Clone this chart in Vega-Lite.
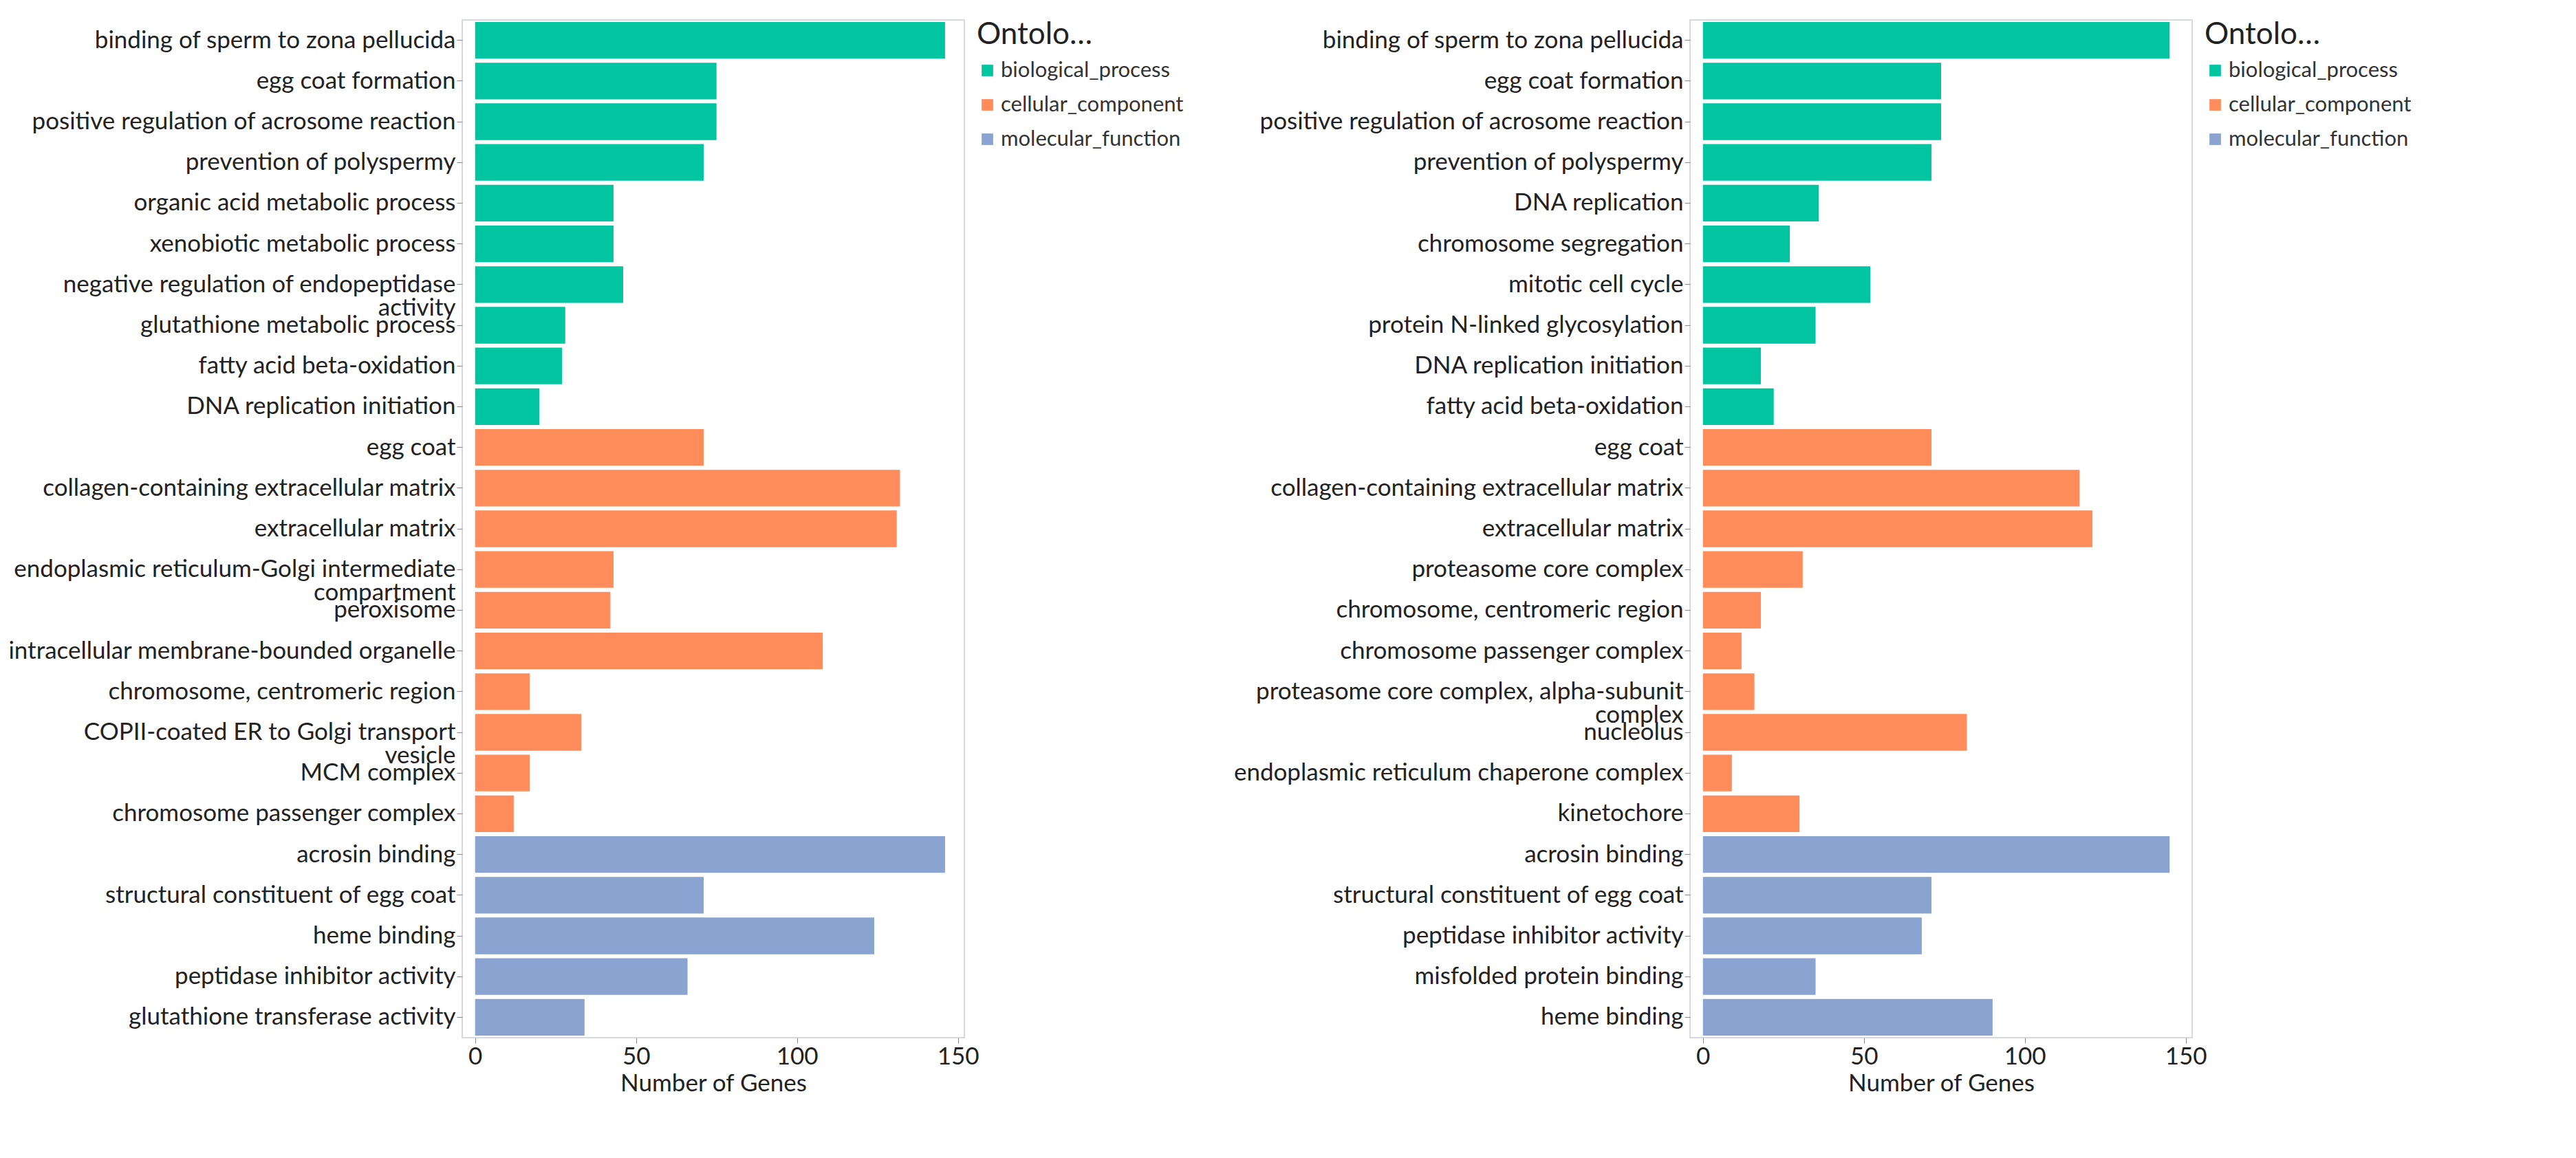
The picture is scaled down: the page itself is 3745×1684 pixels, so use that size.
{
  "$schema": "https://vega.github.io/schema/vega-lite/v6.json",
  "background": "white",
  "padding": {"left": 10, "top": 28, "right": 5, "bottom": 5},
  "config": {
    "font": "Lato",
    "view": {"stroke": "#d8d8e0", "strokeWidth": 2},
    "axis": {"labelFontSize": 35, "titleFontSize": 35, "labelColor": "#222", "titleColor": "#222", "titleFontWeight": "normal", "grid": false, "domain": false, "tickColor": "#888", "tickSize": 8},
    "legend": {"titleFontSize": 44, "labelFontSize": 31, "labelLimit": 500, "titleFontWeight": "normal", "symbolType": "square", "symbolSize": 280, "rowPadding": 18, "titleColor": "#222", "labelColor": "#333", "titlePadding": 14}
  },
  "resolve": {"scale": {"color": "independent"}},
  "spacing": 70,
  "datasets": {
    "left": [
      {"i": 1, "term": "binding of sperm to zona pellucida", "genes": 146, "ont": "biological_process"},
      {"i": 2, "term": "egg coat formation", "genes": 75, "ont": "biological_process"},
      {"i": 3, "term": "positive regulation of acrosome reaction", "genes": 75, "ont": "biological_process"},
      {"i": 4, "term": "prevention of polyspermy", "genes": 71, "ont": "biological_process"},
      {"i": 5, "term": "organic acid metabolic process", "genes": 43, "ont": "biological_process"},
      {"i": 6, "term": "xenobiotic metabolic process", "genes": 43, "ont": "biological_process"},
      {"i": 7, "term": "negative regulation of endopeptidase|activity", "genes": 46, "ont": "biological_process"},
      {"i": 8, "term": "glutathione metabolic process", "genes": 28, "ont": "biological_process"},
      {"i": 9, "term": "fatty acid beta-oxidation", "genes": 27, "ont": "biological_process"},
      {"i": 10, "term": "DNA replication initiation", "genes": 20, "ont": "biological_process"},
      {"i": 11, "term": "egg coat", "genes": 71, "ont": "cellular_component"},
      {"i": 12, "term": "collagen-containing extracellular matrix", "genes": 132, "ont": "cellular_component"},
      {"i": 13, "term": "extracellular matrix", "genes": 131, "ont": "cellular_component"},
      {"i": 14, "term": "endoplasmic reticulum-Golgi intermediate|compartment", "genes": 43, "ont": "cellular_component"},
      {"i": 15, "term": "peroxisome", "genes": 42, "ont": "cellular_component"},
      {"i": 16, "term": "intracellular membrane-bounded organelle", "genes": 108, "ont": "cellular_component"},
      {"i": 17, "term": "chromosome, centromeric region", "genes": 17, "ont": "cellular_component"},
      {"i": 18, "term": "COPII-coated ER to Golgi transport|vesicle", "genes": 33, "ont": "cellular_component"},
      {"i": 19, "term": "MCM complex", "genes": 17, "ont": "cellular_component"},
      {"i": 20, "term": "chromosome passenger complex", "genes": 12, "ont": "cellular_component"},
      {"i": 21, "term": "acrosin binding", "genes": 146, "ont": "molecular_function"},
      {"i": 22, "term": "structural constituent of egg coat", "genes": 71, "ont": "molecular_function"},
      {"i": 23, "term": "heme binding", "genes": 124, "ont": "molecular_function"},
      {"i": 24, "term": "peptidase inhibitor activity", "genes": 66, "ont": "molecular_function"},
      {"i": 25, "term": "glutathione transferase activity", "genes": 34, "ont": "molecular_function"}
    ],
    "right": [
      {"i": 1, "term": "binding of sperm to zona pellucida", "genes": 145, "ont": "biological_process"},
      {"i": 2, "term": "egg coat formation", "genes": 74, "ont": "biological_process"},
      {"i": 3, "term": "positive regulation of acrosome reaction", "genes": 74, "ont": "biological_process"},
      {"i": 4, "term": "prevention of polyspermy", "genes": 71, "ont": "biological_process"},
      {"i": 5, "term": "DNA replication", "genes": 36, "ont": "biological_process"},
      {"i": 6, "term": "chromosome segregation", "genes": 27, "ont": "biological_process"},
      {"i": 7, "term": "mitotic cell cycle", "genes": 52, "ont": "biological_process"},
      {"i": 8, "term": "protein N-linked glycosylation", "genes": 35, "ont": "biological_process"},
      {"i": 9, "term": "DNA replication initiation", "genes": 18, "ont": "biological_process"},
      {"i": 10, "term": "fatty acid beta-oxidation", "genes": 22, "ont": "biological_process"},
      {"i": 11, "term": "egg coat", "genes": 71, "ont": "cellular_component"},
      {"i": 12, "term": "collagen-containing extracellular matrix", "genes": 117, "ont": "cellular_component"},
      {"i": 13, "term": "extracellular matrix", "genes": 121, "ont": "cellular_component"},
      {"i": 14, "term": "proteasome core complex", "genes": 31, "ont": "cellular_component"},
      {"i": 15, "term": "chromosome, centromeric region", "genes": 18, "ont": "cellular_component"},
      {"i": 16, "term": "chromosome passenger complex", "genes": 12, "ont": "cellular_component"},
      {"i": 17, "term": "proteasome core complex, alpha-subunit|complex", "genes": 16, "ont": "cellular_component"},
      {"i": 18, "term": "nucleolus", "genes": 82, "ont": "cellular_component"},
      {"i": 19, "term": "endoplasmic reticulum chaperone complex", "genes": 9, "ont": "cellular_component"},
      {"i": 20, "term": "kinetochore", "genes": 30, "ont": "cellular_component"},
      {"i": 21, "term": "acrosin binding", "genes": 145, "ont": "molecular_function"},
      {"i": 22, "term": "structural constituent of egg coat", "genes": 71, "ont": "molecular_function"},
      {"i": 23, "term": "peptidase inhibitor activity", "genes": 68, "ont": "molecular_function"},
      {"i": 24, "term": "misfolded protein binding", "genes": 35, "ont": "molecular_function"},
      {"i": 25, "term": "heme binding", "genes": 90, "ont": "molecular_function"}
    ]
  },
  "hconcat": [
    {
      "data": {"name": "left"},
      "width": 730,
      "height": 1480,
      "mark": {"type": "bar"},
      "encoding": {
        "y": {"field": "term", "type": "nominal", "sort": {"field": "i"}, "title": null, "scale": {"paddingInner": 0.1, "paddingOuter": 0.05}, "axis": {"labelExpr": "split(datum.label, '|')", "labelLimit": 900, "labelLineHeight": 34}},
        "x": {"field": "genes", "type": "quantitative", "title": "Number of Genes", "scale": {"domain": [-4, 152], "nice": false}, "axis": {"values": [0, 50, 100, 150]}},
        "color": {"field": "ont", "type": "nominal", "title": "Ontology", "scale": {"domain": ["biological_process", "cellular_component", "molecular_function"], "range": ["#00C5A0", "#FF8C5A", "#8BA3D0"]}}
      }
    },
    {
      "data": {"name": "right"},
      "width": 730,
      "height": 1480,
      "mark": {"type": "bar"},
      "encoding": {
        "y": {"field": "term", "type": "nominal", "sort": {"field": "i"}, "title": null, "scale": {"paddingInner": 0.1, "paddingOuter": 0.05}, "axis": {"labelExpr": "split(datum.label, '|')", "labelLimit": 900, "labelLineHeight": 34}},
        "x": {"field": "genes", "type": "quantitative", "title": "Number of Genes", "scale": {"domain": [-4, 152], "nice": false}, "axis": {"values": [0, 50, 100, 150]}},
        "color": {"field": "ont", "type": "nominal", "title": "Ontology", "scale": {"domain": ["biological_process", "cellular_component", "molecular_function"], "range": ["#00C5A0", "#FF8C5A", "#8BA3D0"]}}
      }
    }
  ]
}
